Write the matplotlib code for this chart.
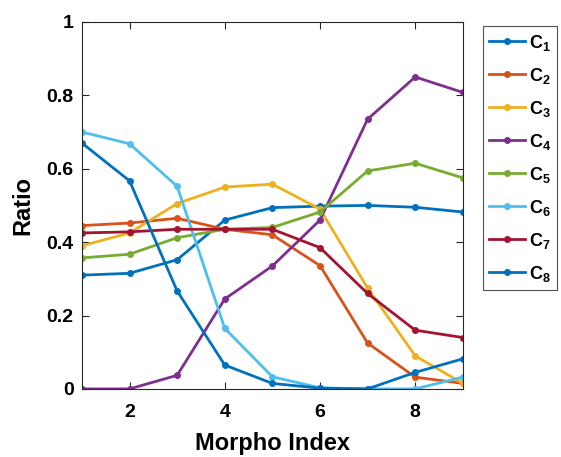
import numpy as np
import matplotlib
matplotlib.use("Agg")
from matplotlib import pyplot as plt

plt.rcParams['font.family'] = 'Liberation Sans'
plt.rcParams['font.weight'] = 'bold'
plt.rcParams['mathtext.fontset'] = 'custom'
plt.rcParams['mathtext.bf'] = 'Liberation Sans:bold'
plt.rcParams['mathtext.rm'] = 'Liberation Sans:bold'

# data
morpho = [1, 2, 3, 4, 5, 6, 7, 8, 9]
c1 = [0.310, 0.315, 0.352, 0.460, 0.494, 0.498, 0.500, 0.495, 0.482]
c2 = [0.445, 0.452, 0.465, 0.435, 0.420, 0.336, 0.125, 0.032, 0.015]
c3 = [0.390, 0.425, 0.505, 0.550, 0.558, 0.490, 0.275, 0.090, 0.015]
c4 = [0.000, 0.000, 0.037, 0.245, 0.335, 0.460, 0.735, 0.850, 0.808]
c5 = [0.357, 0.367, 0.412, 0.435, 0.440, 0.482, 0.594, 0.615, 0.575]
c6 = [0.700, 0.668, 0.552, 0.165, 0.033, 0.003, 0.000, 0.000, 0.032]
c7 = [0.425, 0.428, 0.435, 0.435, 0.435, 0.385, 0.260, 0.160, 0.140]
c8 = [0.670, 0.567, 0.267, 0.065, 0.015, 0.002, 0.000, 0.045, 0.082]
series = [c1, c2, c3, c4, c5, c6, c7, c8]
labels = [r'$\mathbf{C_%d}$' % (i + 1) for i in range(8)]

# matlab default color order (wraps back for C8)
colors = ['#0072BD', '#D95319', '#EDB120', '#7E2F8E',
          '#77AC30', '#4DBEEE', '#A2142F', '#0072BD']

fig = plt.figure(figsize=(5.61, 4.57), dpi=100)
ax = fig.add_axes([0.146, 0.149, 0.679, 0.803])

for ys, col, lab in zip(series, colors, labels):
    ax.plot(morpho, ys, '-o', color=col, lw=2, ms=4, label=lab)

ax.set_xlim(1, 9)
ax.set_ylim(0, 1)
ax.set_xticks([2, 4, 6, 8])
ax.set_yticks([0, 0.2, 0.4, 0.6, 0.8, 1])
ax.set_yticklabels(['0', '0.2', '0.4', '0.6', '0.8', '1'])
ax.tick_params(direction='in', top=True, right=True, labelsize=14,
               length=5, width=0.8, color='#262626')
ax.tick_params(axis='x', pad=11)
ax.tick_params(axis='y', pad=6)
for s in ax.spines.values():
    s.set_color('#262626')
    s.set_linewidth(0.8)

ax.set_xlabel('Morpho Index', fontsize=17, fontweight='bold', labelpad=8)
ax.set_ylabel('Ratio', fontsize=17, fontweight='bold', labelpad=9)

leg = ax.legend(loc='upper left', bbox_to_anchor=(1.052, 0.988), fontsize=13,
                frameon=True, fancybox=False, edgecolor='#262626',
                handlelength=2.0, labelspacing=0.72, borderpad=0.35,
                handletextpad=0.2, borderaxespad=0)
leg.get_frame().set_linewidth(0.8)

plt.savefig('out.png', dpi=100)
